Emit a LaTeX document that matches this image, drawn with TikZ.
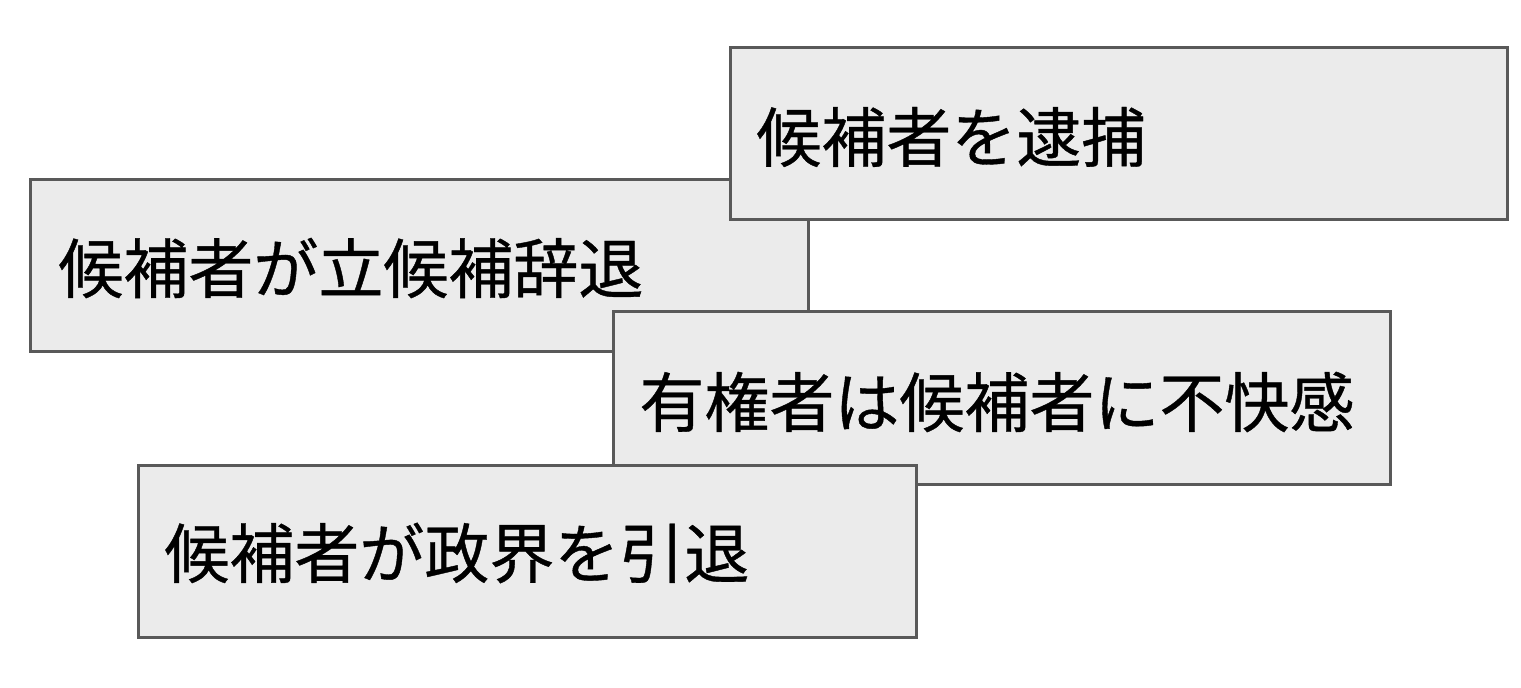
\documentclass[tikz,border=0pt]{standalone}
\usepackage{fontspec}
\newfontfamily\cjk[FakeBold=0.6]{Noto Sans CJK JP}
\begin{document}
\begin{tikzpicture}[x=0.5pt,y=-0.5pt,
  box/.style={draw=black!65,fill=black!8,line width=1.5pt},
  lab/.style={anchor=west,font=\cjk\fontsize{32.5}{36}\selectfont,inner sep=0pt}]
\useasboundingbox[fill=white] (0,0) rectangle (1521,688);
\draw[box] (30,180) rectangle (808,352);
\node[lab] (t2) at (58,268) {候補者が立候補辞退};
\draw[box] (730,48) rectangle (1507,220);
\node[lab] (t1) at (756,137) {候補者を逮捕};
\draw[box] (613,312) rectangle (1390,485);
\node[lab] (t3) at (639,402) {有権者は候補者に不快感};
\draw[box] (138,466) rectangle (916,638);
\node[lab] (t4) at (164,553) {候補者が政界を引退};
\end{tikzpicture}
\end{document}
